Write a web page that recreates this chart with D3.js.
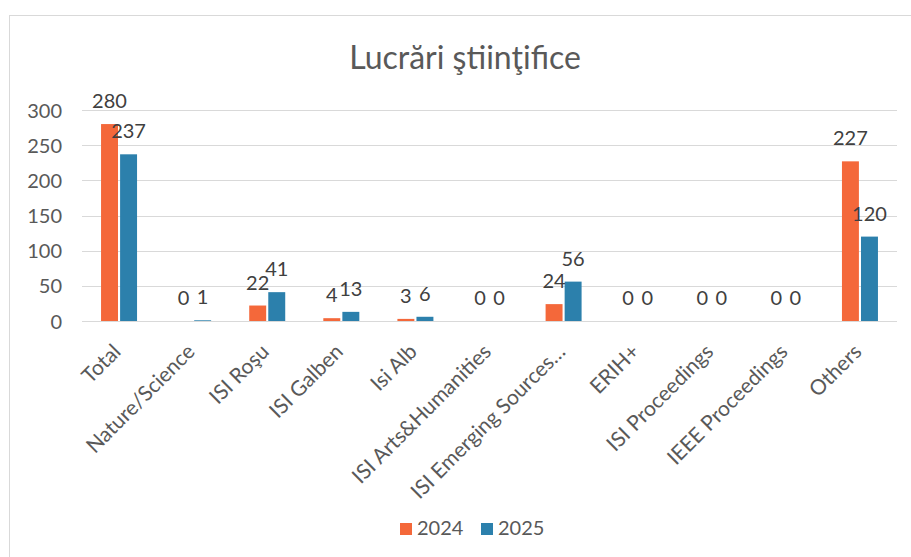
<!DOCTYPE html>
<html>
<head>
<meta charset="utf-8">
<script src="https://cdn.jsdelivr.net/npm/d3@7"></script>
<style>
  html, body { margin: 0; padding: 0; background: #fff; }
  svg { display: block; font-family: Lato, "Open Sans", sans-serif; }
</style>
</head>
<body>
<svg id="chart" width="911" height="557"></svg>
<script>
const title = "Lucrări ştiinţifice";
const categories = ["Total", "Nature/Science", "ISI Roşu", "ISI Galben", "Isi Alb",
  "ISI Arts&Humanities", "ISI Emerging Sources…", "ERIH+", "ISI Proceedings",
  "IEEE Proceedings", "Others"];
const seriesNames = ["2024", "2025"];
const values2024 = [280, 0, 22, 4, 3, 0, 24, 0, 0, 0, 227];
const values2025 = [237, 1, 41, 13, 6, 0, 56, 0, 0, 0, 120];
const yTicks = [0, 50, 100, 150, 200, 250, 300];
const colors = ["#F4683A", "#2C80AC"];

const svg = d3.select("#chart");
const textColor = "#595959";

// chart border
svg.append("rect").attr("x", 9.5).attr("y", 15.5).attr("width", 910).attr("height", 560)
  .attr("fill", "none").attr("stroke", "#d9d9d9").attr("stroke-width", 1);

const plot = { left: 82, right: 897, top: 110, bottom: 321 };

const x0 = d3.scaleBand().domain(categories).range([plot.left, plot.right]).paddingInner(0).paddingOuter(0);
const bw = x0.bandwidth();
const x1 = d3.scaleBand().domain(seriesNames).range([bw / 2 - 18, bw / 2 + 18]).paddingInner(0.11).paddingOuter(0);
const y = d3.scaleLinear().domain([0, 300]).range([plot.bottom, plot.top]);

// title
svg.append("text").attr("x", 465).attr("y", 69).attr("text-anchor", "middle")
  .attr("font-size", 32).attr("fill", textColor).text(title);

// gridlines
svg.append("g").selectAll("line").data(yTicks).join("line")
  .attr("x1", plot.left).attr("x2", plot.right)
  .attr("y1", d => Math.round(y(d)) + 0.5).attr("y2", d => Math.round(y(d)) + 0.5)
  .attr("stroke", "#d9d9d9").attr("stroke-width", 1);

// y axis labels
const yAxis = d3.axisLeft(y).tickValues(yTicks).tickSize(0).tickPadding(0);
const gy = svg.append("g").attr("transform", `translate(${plot.left - 20},0)`).call(yAxis);
gy.select(".domain").remove();
gy.selectAll("text").attr("font-size", 20).attr("fill", textColor)
  .attr("font-family", "Lato, 'Open Sans', sans-serif").attr("dy", "0.35em");

// bars
const data = categories.map((c, i) => ({ cat: c, vals: [values2024[i], values2025[i]] }));
const groups = svg.append("g").selectAll("g").data(data).join("g")
  .attr("transform", d => `translate(${x0(d.cat)},0)`);
groups.selectAll("rect").data(d => d.vals.map((v, j) => ({ key: seriesNames[j], v, j })))
  .join("rect")
  .attr("x", d => x1(d.key)).attr("width", x1.bandwidth())
  .attr("y", d => y(d.v)).attr("height", d => y(0) - y(d.v))
  .attr("fill", d => colors[d.j]);
groups.selectAll("text").data(d => d.vals.map((v, j) => ({ key: seriesNames[j], v, j })))
  .join("text")
  .attr("x", d => x1(d.key) + x1.bandwidth() / 2)
  .attr("y", d => y(d.v) - 16)
  .attr("text-anchor", "middle").attr("font-size", 20).attr("fill", "#404040")
  .text(d => d.v);

// x axis labels
const xAxis = d3.axisBottom(x0).tickSize(0).tickPadding(0);
const gx = svg.append("g").attr("transform", `translate(0,${plot.bottom})`).call(xAxis);
gx.select(".domain").remove();
gx.selectAll(".tick text")
  .attr("font-size", 21).attr("fill", textColor)
  .attr("font-family", "Lato, 'Open Sans', sans-serif")
  .attr("text-anchor", "end").attr("dy", 0).attr("y", 0)
  .attr("transform", "translate(3,32) rotate(-45)");

// legend
const legend = svg.append("g").attr("transform", "translate(400,523)");
const items = legend.selectAll("g").data(seriesNames).join("g")
  .attr("transform", (d, i) => `translate(${i * 81},0)`);
items.append("rect").attr("width", 12).attr("height", 12).attr("fill", (d, i) => colors[i]);
items.append("text").attr("x", 17).attr("y", 12).attr("font-size", 20).attr("fill", textColor).text(d => d);
</script>
</body>
</html>
